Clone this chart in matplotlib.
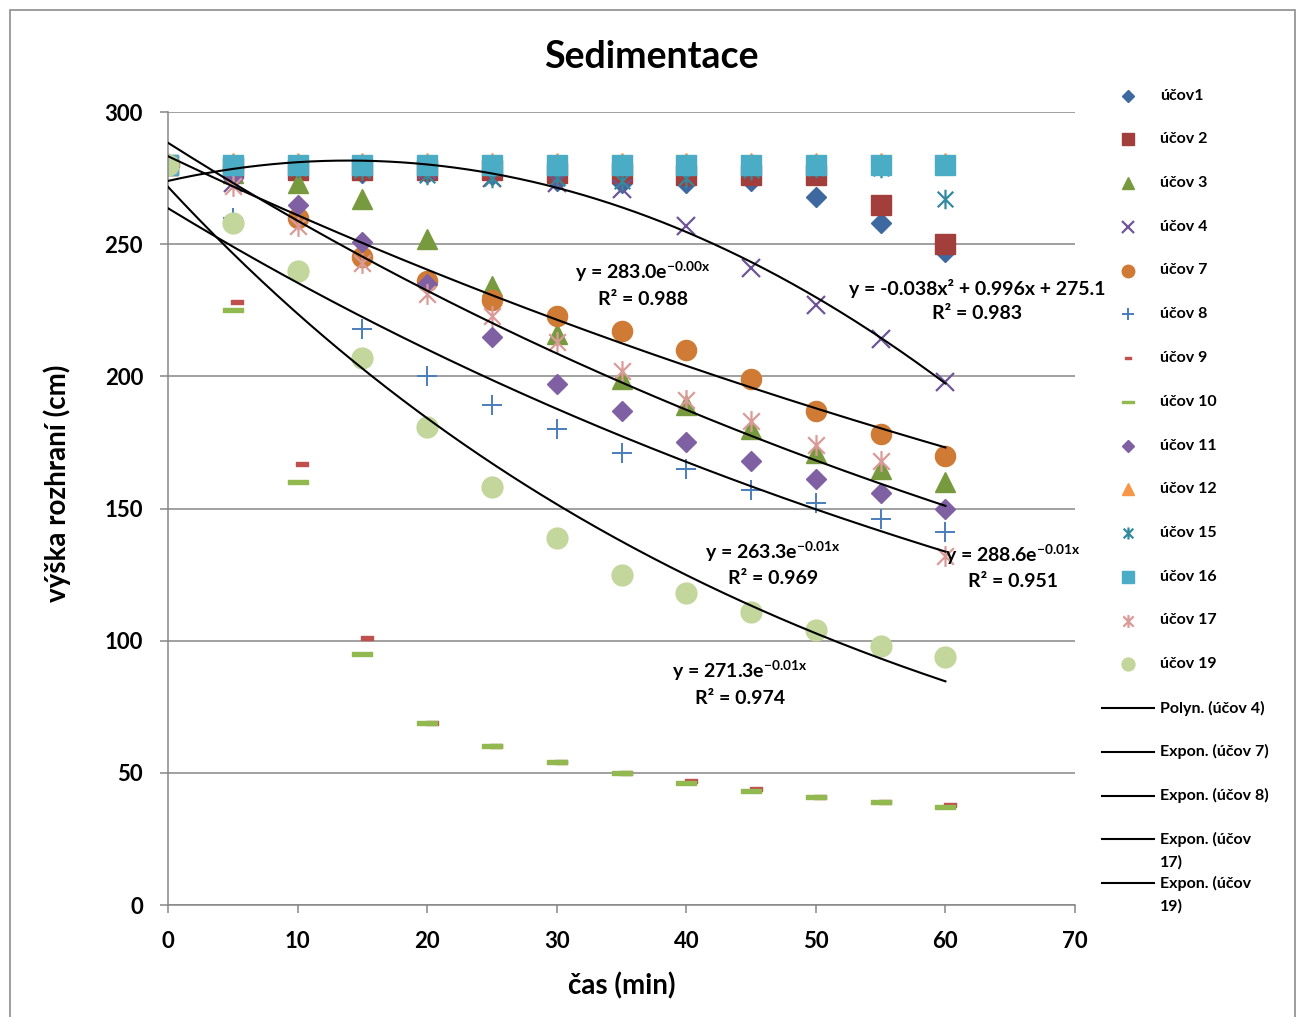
import numpy as np
import matplotlib
matplotlib.use("Agg")
import matplotlib.pyplot as plt
from matplotlib.path import Path
from matplotlib.patches import Rectangle

plt.rcParams['font.family'] = ['Lato', 'DejaVu Sans']
plt.rcParams['font.weight'] = 'bold'
plt.rcParams['mathtext.fontset'] = 'custom'
plt.rcParams['mathtext.rm'] = 'Lato:bold'
plt.rcParams['mathtext.bf'] = 'Lato:bold'
plt.rcParams['mathtext.default'] = 'bf'

# ---------------- data ----------------
t = [0, 5, 10, 15, 20, 25, 30, 35, 40, 45, 50, 55, 60]
t9 = [0.35, 5.35, 10.35, 15.35, 20.35, 25.35, 30.35, 35.35, 40.35, 45.35, 50.35, 55.35, 60.35]

ucov1 = [280, 278, 278, 277, 277, 276, 274, 273, 273, 274, 268, 258, 247]
ucov2 = [280, 279, 278, 278, 278, 278, 277, 277, 276, 276, 276, 265, 250]
ucov3 = [280, 277, 273, 267, 252, 234, 216, 199, 189, 180, 171, 165, 160]
ucov4 = [280, 273, 280, 280, 278, 275, 273, 271, 257, 241, 227, 214, 198]
ucov7 = [280, 279, 260, 245, 236, 229, 223, 217, 210, 199, 187, 178, 170]
ucov8 = [280, 260, 240, 218, 200, 189, 180, 171, 165, 157, 152, 146, 141]
ucov9 = [280, 228, 167, 101, 69, 60, 54, 50, 47, 44, 41, 39, 38]
ucov10 = [280, 225, 160, 95, 69, 60, 54, 50, 46, 43, 41, 39, 37]
ucov11 = [280, 275, 265, 251, 235, 215, 197, 187, 175, 168, 161, 156, 150]
ucov12 = [280.6, 280.6, 280.6, 280.6, 280.6, 280.6, 280.6, 280.6, 280.6, 280.6, 280.6, 280.6, 280.6]
ucov15 = [280, 279, 279, 278, 276, 275, 275, 274, 275, 278, 279, 279, 267]
ucov16 = [280, 280, 280, 280, 280, 280, 280, 280, 280, 280, 280, 280, 280]
ucov17 = [280, 272, 257, 243, 231, 223, 213, 202, 191, 183, 174, 168, 132]
ucov19 = [280, 258, 240, 207, 181, 158, 139, 125, 118, 111, 104, 98, 94]

labels = ["účov1", "účov 2", "účov 3", "účov 4", "účov 7", "účov 8", "účov 9",
          "účov 10", "účov 11", "účov 12", "účov 15", "účov 16", "účov 17", "účov 19"]
trend_labels = ["Polyn. (účov 4)", "Expon. (účov 7)", "Expon. (účov 8)",
                "Expon. (účov\n17)", "Expon. (účov\n19)"]
eq_texts = {
    "u7": ("y = 283.0e$^{-0.00x}$", "R² = 0.988"),
    "u4": ("y = -0.038x² + 0.996x + 275.1", "R² = 0.983"),
    "u8": ("y = 263.3e$^{-0.01x}$", "R² = 0.969"),
    "u17": ("y = 288.6e$^{-0.01x}$", "R² = 0.951"),
    "u19": ("y = 271.3e$^{-0.01x}$", "R² = 0.974"),
}

# ---------------- styles ----------------
ast_path = Path([(-1, -1), (1, 1), (-1, 1), (1, -1), (0, -1.25), (0, 1.25)],
                [Path.MOVETO, Path.LINETO, Path.MOVETO, Path.LINETO, Path.MOVETO, Path.LINETO])
dash_big = Path([(-1, -0.22), (1, -0.22), (1, 0.22), (-1, 0.22), (-1, -0.22)],
                [Path.MOVETO, Path.LINETO, Path.LINETO, Path.LINETO, Path.CLOSEPOLY])
dash_small = Path([(-1, -0.3), (1, -0.3), (1, 0.3), (-1, 0.3), (-1, -0.3)],
                  [Path.MOVETO, Path.LINETO, Path.LINETO, Path.LINETO, Path.CLOSEPOLY])

series = [
    (t, ucov1, dict(marker='D', ms=10, color='#3D69A0', mec='#3D69A0')),
    (t, ucov2, dict(marker='s', ms=14, color='#A23F3D', mec='#A23F3D')),
    (t, ucov3, dict(marker='^', ms=15, color='#779A3E', mec='#779A3E')),
    (t, ucov4, dict(marker='x', ms=13, color='#6F5597', mew=1.6)),
    (t, ucov7, dict(marker='o', ms=14.5, color='#D07B35', mec='#D07B35')),
    (t, ucov8, dict(marker='+', ms=14, color='#4A7EBB', mew=1.4)),
    (t9, ucov9, dict(marker=dash_small, ms=8, color='#C0504D', mec='#C0504D')),
    (t, ucov10, dict(marker=dash_big, ms=14.5, color='#92B94F', mec='#92B94F')),
    (t, ucov11, dict(marker='D', ms=10, color='#7F61A3', mec='#7F61A3')),
    (t, ucov12, dict(marker='^', ms=14.5, color='#F79646', mec='#F79646')),
    (t, ucov15, dict(marker=ast_path, ms=14, color='#33899E', mew=1.6, mfc='none')),
    (t, ucov16, dict(marker='s', ms=14.5, color='#4BACC6', mec='#4BACC6')),
    (t, ucov17, dict(marker=ast_path, ms=15, color='#DA9B98', mew=1.6, mfc='none')),
    (t, ucov19, dict(marker='o', ms=15, color='#C3D69B', mec='#C3D69B')),
]

W, H = 1301, 1017
fig = plt.figure(figsize=(W / 100, H / 100), dpi=100)
ax = fig.add_axes([168 / W, 1 - 905 / H, (1075 - 168) / W, (905 - 112) / H])

for xs, ys, st in series:
    ax.plot(xs, ys, linestyle='none', **st)

# ---------------- trendlines (fitted from the data) ----------------
xf = np.linspace(0, 60, 300)
tt = np.array(t, dtype=float)
p4 = np.polyfit(tt, np.array(ucov4, float), 2)
ax.plot(xf, np.polyval(p4, xf), color='black', lw=1.5, zorder=5)
for ys in (ucov7, ucov8, ucov17, ucov19):
    b, a = np.polyfit(tt, np.log(np.array(ys, float)), 1)
    ax.plot(xf, np.exp(a) * np.exp(b * xf), color='black', lw=1.5, zorder=5)

# ---------------- axes styling ----------------
ax.set_xlim(0, 70)
ax.set_ylim(0, 300)
ax.set_xticks(range(0, 71, 10))
ax.set_yticks(range(0, 301, 50))
for s in ('top', 'right'):
    ax.spines[s].set_visible(False)
for s in ('left', 'bottom'):
    ax.spines[s].set_color('#868686')
    ax.spines[s].set_linewidth(1.1)
ax.yaxis.grid(True, color='#868686', lw=1.1)
ax.set_axisbelow(True)
ax.tick_params(axis='both', colors='#868686', length=6, width=1.1, labelcolor='black',
               labelsize=16)
ax.tick_params(axis='y', pad=12)
ax.tick_params(axis='x', pad=13)
for lab in ax.get_xticklabels() + ax.get_yticklabels():
    lab.set_fontweight('bold')

ax.set_xlabel("čas (min)", fontsize=20, fontweight='bold', labelpad=14)
ax.set_ylabel("výška rozhraní (cm)", fontsize=20, fontweight='bold')
ax.yaxis.set_label_coords((71 - 168) / 907, (905 - 483) / 793)
fig.text(651 / W, 1 - 57 / H, "Sedimentace", ha='center', va='center',
         fontsize=27, fontweight='bold')

# ---------------- trendline equations ----------------
eq_pos = {"u7": (36.66, 239.5, 228.9), "u4": (62.44, 233.4, 223.6),
          "u8": (46.69, 133.5, 123.7), "u17": (65.2, 132.4, 122.2),
          "u19": (44.15, 88.5, 78.3)}
for k, (x0, y1, y2) in eq_pos.items():
    e1, e2 = eq_texts[k]
    ax.text(x0, y1, e1, ha='center', va='center', fontsize=14, fontweight='bold', zorder=6)
    ax.text(x0, y2, e2, ha='center', va='center', fontsize=14, fontweight='bold', zorder=6)

# ---------------- legend (drawn in pixel space) ----------------
lax = fig.add_axes([0, 0, 1, 1])
lax.set_xlim(0, W)
lax.set_ylim(H, 0)
lax.axis('off')
y0, dy = 95.5, 43.75
for i, (xs, ys, st) in enumerate(series):
    st2 = dict(st)
    st2['ms'] = st['ms'] * 0.62
    yy = y0 + i * dy
    lax.plot([1128], [yy], linestyle='none', **st2)
    lax.text(1160, yy, labels[i], ha='left', va='center', fontsize=11.5, fontweight='bold')
for j, lab in enumerate(trend_labels):
    yy = y0 + (len(series) + j) * dy
    lax.plot([1102, 1154], [yy, yy], color='black', lw=1.5)
    parts = lab.split("\n")
    lax.text(1160, yy, parts[0], ha='left', va='center', fontsize=11.5, fontweight='bold')
    if len(parts) > 1:
        lax.text(1160, yy + 23, parts[1], ha='left', va='center', fontsize=11.5,
                 fontweight='bold')

# chart-area border
fig.add_artist(Rectangle((10 / W, -0.01), (1295 - 10) / W, 1.01 - 10 / H,
                         transform=fig.transFigure, fill=False, ec='#8C8C8C', lw=1.2))

fig.savefig("out.png", dpi=100)
